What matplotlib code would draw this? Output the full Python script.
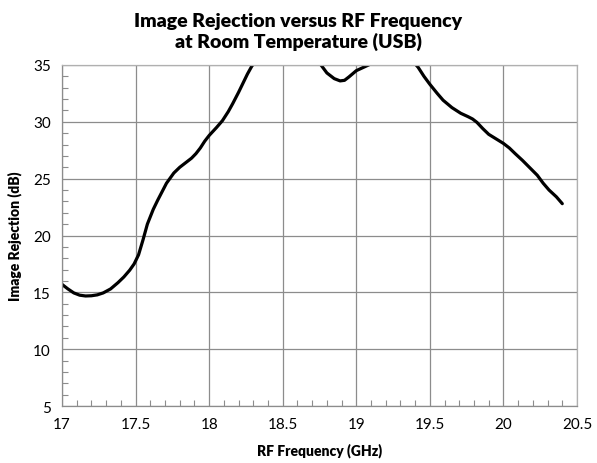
import numpy as np
import matplotlib.pyplot as plt
from matplotlib.ticker import MultipleLocator

# values (curve goes above 35 dB and is clipped there)
freq_ghz = [17.0, 17.04, 17.08, 17.12, 17.16, 17.2, 17.24, 17.28, 17.33, 17.38,
            17.42, 17.46, 17.49, 17.52, 17.55, 17.58, 17.62, 17.65, 17.71, 17.76,
            17.8, 17.85, 17.88, 17.91, 17.94, 17.97, 18.0, 18.05, 18.09, 18.13,
            18.16, 18.2, 18.23, 18.26, 18.29, 18.35, 18.4, 18.5, 18.6, 18.7,
            18.76, 18.8, 18.85, 18.89, 18.92, 18.95, 19.0, 19.05, 19.1, 19.2,
            19.3, 19.38, 19.42, 19.46, 19.5, 19.55, 19.59, 19.65, 19.71, 19.76,
            19.79, 19.82, 19.86, 19.9, 19.95, 20.0, 20.04, 20.08, 20.13, 20.18,
            20.23, 20.27, 20.31, 20.36, 20.4]
rejection_db = [15.7, 15.3, 14.95, 14.75, 14.68, 14.7, 14.78, 14.95, 15.3, 15.85,
                16.35, 16.95, 17.5, 18.3, 19.6, 21.0, 22.3, 23.1, 24.6, 25.5,
                26.0, 26.5, 26.8, 27.2, 27.7, 28.3, 28.8, 29.5, 30.1, 30.9,
                31.6, 32.6, 33.4, 34.2, 34.9, 35.9, 36.5, 36.9, 36.4, 35.6,
                35.0, 34.3, 33.8, 33.6, 33.65, 33.95, 34.5, 34.8, 35.1, 35.6,
                35.9, 35.4, 34.8, 34.0, 33.3, 32.5, 31.9, 31.25, 30.75, 30.45,
                30.25, 29.95, 29.4, 28.9, 28.5, 28.1, 27.7, 27.2, 26.6, 25.95,
                25.3, 24.6, 24.0, 23.4, 22.8]

xticks = [17, 17.5, 18, 18.5, 19, 19.5, 20, 20.5]
xticklabels = ['17', '17.5', '18', '18.5', '19', '19.5', '20', '20.5']
yticks = [5, 10, 15, 20, 25, 30, 35]

plt.rcParams['font.family'] = ['Lato', 'DejaVu Sans']

fig = plt.figure(figsize=(5.97, 4.64), dpi=100)
ax = fig.add_axes([0.1039, 0.1228, 0.8626, 0.735])

ax.plot(freq_ghz, rejection_db, color='black', lw=2.3,
        solid_capstyle='round', solid_joinstyle='round')

ax.set_xlim(17, 20.5)
ax.set_ylim(5, 35)
ax.set_xticks(xticks)
ax.set_xticklabels(xticklabels)
ax.set_yticks(yticks)
ax.xaxis.set_minor_locator(MultipleLocator(0.1))
ax.yaxis.set_minor_locator(MultipleLocator(1))
ax.tick_params(which='major', length=0, labelsize=11, pad=8)
ax.tick_params(which='minor', direction='in', length=4, color='#8c8c8c', width=0.8)
ax.grid(True, which='major', color='#8c8c8c', lw=0.9)
ax.set_axisbelow(True)
for s in ax.spines.values():
    s.set_color('#8c8c8c')
    s.set_linewidth(0.9)
ax.spines['top'].set_color('#b0b0b0')
ax.spines['right'].set_color('#b0b0b0')

ax.set_xlabel('RF Frequency (GHz)', fontsize=10, fontweight='heavy', labelpad=8)
ax.set_ylabel('Image Rejection (dB)', fontsize=10, fontweight='heavy', labelpad=8)

fig.text(0.5, 0.972, 'Image Rejection versus RF Frequency\nat Room Temperature (USB)',
         ha='center', va='top', fontsize=14, fontweight='heavy', linespacing=1.2)

fig.savefig('out.png', dpi=100)
